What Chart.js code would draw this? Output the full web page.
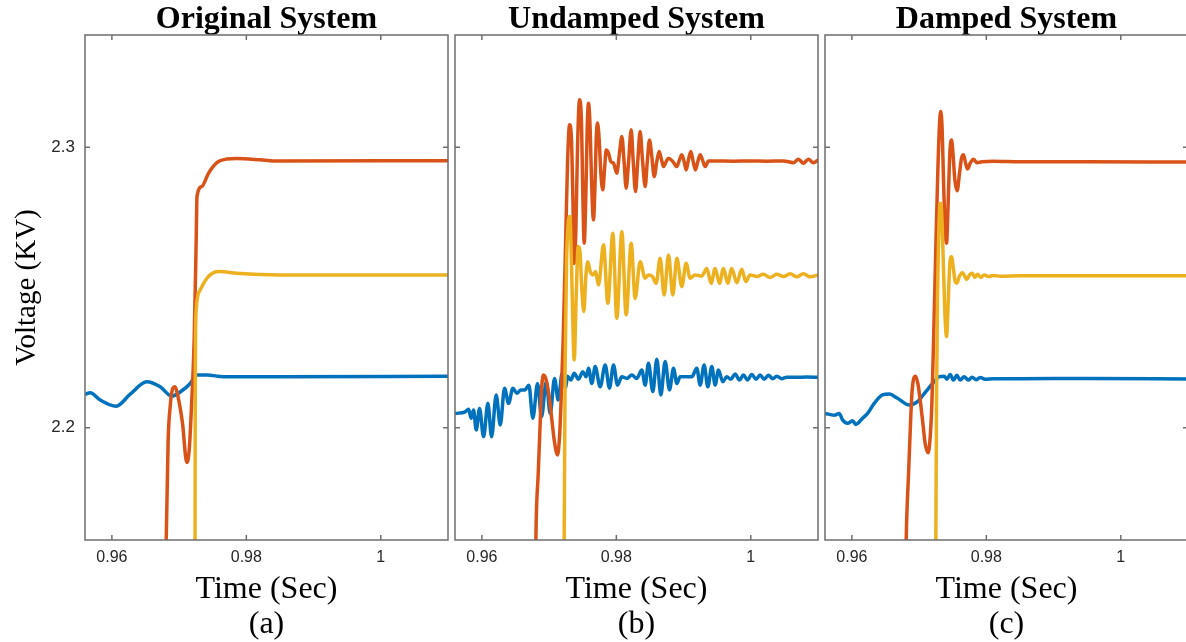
<!DOCTYPE html>
<html>
<head>
<meta charset="utf-8">
<script src="https://cdn.jsdelivr.net/npm/chart.js@4.4.1/dist/chart.umd.min.js"></script>
<style>
  body { margin: 0; background: #fff; }
  #wrap { position: relative; width: 1186px; height: 642px; overflow: hidden; background: #fff; }
  canvas { position: absolute; top: 0; }
</style>
</head>
<body>
<div id="wrap">
  <canvas id="panelA" width="452" height="642" style="left:0px"></canvas>
  <canvas id="panelB" width="370" height="642" style="left:452px"></canvas>
  <canvas id="panelC" width="370" height="642" style="left:822px"></canvas>
</div>
<script>
// axis ticks and labels
const timeTicks = [0.96, 0.98, 1];
const voltTicks = [2.2, 2.3];
const panelTitles = ['Original System', 'Undamped System', 'Damped System'];
const captions = ['(a)', '(b)', '(c)'];

// (a) original system: [time, voltage]
const origBlue = [[0.95603,2.2119],[0.95677,2.2125],[0.95827,2.2099],[0.96064,2.2077],[0.96273,2.2120],[0.96520,2.2164],[0.96719,2.2146],[0.96892,2.2113],[0.97041,2.2132],[0.97165,2.2158],[0.97264,2.2188],[0.97413,2.2188],[0.97660,2.2182],[0.98503,2.2182],[1.01006,2.2184]];
const origOrange = [[0.96793,2.1338],[0.96808,2.1600],[0.96837,2.1956],[0.96867,2.2075],[0.96897,2.2134],[0.96940,2.2146],[0.96978,2.2117],[0.97050,2.2017],[0.97115,2.1876],[0.97150,2.1920],[0.97184,2.2075],[0.97224,2.2313],[0.97254,2.2669],[0.97266,2.2824],[0.97338,2.2860],[0.97437,2.2907],[0.97561,2.2945],[0.97710,2.2958],[0.97859,2.2960],[0.98206,2.2955],[0.98404,2.2951],[1.01006,2.2952]];
const origYellow = [[0.97234,2.1338],[0.97237,2.1600],[0.97240,2.2100],[0.97245,2.2330],[0.97254,2.2420],[0.97313,2.2491],[0.97413,2.2533],[0.97512,2.2553],[0.97611,2.2557],[0.97859,2.2551],[0.98503,2.2545],[1.01006,2.2545]];

// (b) undamped system
const undBlue = [[0.95603,2.2051],[0.95752,2.2057],[0.95802,2.2066],[0.95841,2.2034],[0.95876,2.2063],[0.95916,2.1992],[0.95965,2.2069],[0.96025,2.1968],[0.96089,2.2087],[0.96144,2.1968],[0.96213,2.2117],[0.96273,2.2010],[0.96337,2.2141],[0.96397,2.2087],[0.96461,2.2141],[0.96520,2.2123],[0.96580,2.2135],[0.96639,2.2135],[0.96699,2.2152],[0.96758,2.2034],[0.96828,2.2158],[0.96887,2.2039],[0.96957,2.2164],[0.97016,2.2051],[0.97081,2.2176],[0.97135,2.2099],[0.97195,2.2194],[0.97244,2.2141],[0.97274,2.2184],[0.97323,2.2170],[0.97373,2.2194],[0.97437,2.2173],[0.97502,2.2200],[0.97551,2.2182],[0.97586,2.2212],[0.97636,2.2158],[0.97685,2.2218],[0.97760,2.2146],[0.97834,2.2224],[0.97898,2.2141],[0.97958,2.2224],[0.98017,2.2152],[0.98082,2.2182],[0.98156,2.2176],[0.98230,2.2188],[0.98305,2.2176],[0.98379,2.2206],[0.98429,2.2152],[0.98478,2.2230],[0.98543,2.2129],[0.98602,2.2244],[0.98662,2.2117],[0.98726,2.2236],[0.98791,2.2135],[0.98850,2.2212],[0.98900,2.2158],[0.98949,2.2182],[0.99024,2.2182],[0.99123,2.2182],[0.99197,2.2212],[0.99247,2.2152],[0.99306,2.2224],[0.99361,2.2146],[0.99420,2.2218],[0.99470,2.2152],[0.99519,2.2206],[0.99584,2.2164],[0.99643,2.2182],[0.99703,2.2173],[0.99767,2.2192],[0.99831,2.2170],[0.99891,2.2188],[0.99950,2.2170],[1.00015,2.2190],[1.00079,2.2173],[1.00139,2.2188],[1.00198,2.2173],[1.00263,2.2187],[1.00327,2.2175],[1.00387,2.2184],[1.00461,2.2175],[1.00535,2.2180],[1.00684,2.2180],[1.00833,2.2181],[1.01006,2.2180]];
const undOrange = [[0.96793,2.1338],[0.96803,2.1600],[0.96838,2.1837],[0.96867,2.2016],[0.96887,2.2135],[0.96917,2.2188],[0.96957,2.2170],[0.97001,2.2111],[0.97041,2.2028],[0.97076,2.1956],[0.97125,2.1903],[0.97155,2.1968],[0.97175,2.2075],[0.97209,2.2313],[0.97244,2.2646],[0.97274,2.2943],[0.97304,2.3080],[0.97333,2.3026],[0.97353,2.2824],[0.97373,2.2586],[0.97398,2.2705],[0.97423,2.3002],[0.97452,2.3169],[0.97482,2.3086],[0.97502,2.2824],[0.97522,2.2658],[0.97546,2.2824],[0.97566,2.3062],[0.97586,2.3157],[0.97611,2.3062],[0.97631,2.2883],[0.97660,2.2741],[0.97685,2.2883],[0.97700,2.3026],[0.97720,2.3086],[0.97745,2.3026],[0.97770,2.2907],[0.97799,2.2848],[0.97824,2.2919],[0.97849,2.2990],[0.97883,2.2979],[0.97918,2.2949],[0.97958,2.2943],[0.98007,2.2907],[0.98047,2.2979],[0.98082,2.3038],[0.98117,2.2943],[0.98146,2.2854],[0.98181,2.2943],[0.98221,2.3062],[0.98250,2.2955],[0.98285,2.2842],[0.98320,2.2955],[0.98354,2.3056],[0.98389,2.2955],[0.98429,2.2860],[0.98459,2.2943],[0.98493,2.3026],[0.98528,2.2967],[0.98563,2.2895],[0.98602,2.2949],[0.98637,2.2985],[0.98667,2.2961],[0.98701,2.2931],[0.98741,2.2949],[0.98776,2.2961],[0.98840,2.2949],[0.98900,2.2931],[0.98939,2.2955],[0.98974,2.2973],[0.99009,2.2949],[0.99038,2.2919],[0.99073,2.2955],[0.99108,2.2985],[0.99143,2.2949],[0.99177,2.2919],[0.99212,2.2949],[0.99247,2.2973],[0.99281,2.2955],[0.99321,2.2931],[0.99371,2.2951],[0.99445,2.2951],[0.99742,2.2950],[0.99990,2.2951],[1.00238,2.2950],[1.00486,2.2951],[1.00634,2.2945],[1.00709,2.2957],[1.00783,2.2943],[1.00857,2.2957],[1.00932,2.2945],[1.01006,2.2955]];
const undYellow = [[0.97214,2.1279],[0.97224,2.1600],[0.97239,2.2230],[0.97259,2.2586],[0.97284,2.2729],[0.97309,2.2753],[0.97333,2.2586],[0.97353,2.2372],[0.97373,2.2242],[0.97403,2.2467],[0.97432,2.2646],[0.97457,2.2634],[0.97487,2.2491],[0.97517,2.2414],[0.97546,2.2539],[0.97576,2.2592],[0.97611,2.2557],[0.97651,2.2545],[0.97690,2.2557],[0.97735,2.2509],[0.97809,2.2652],[0.97874,2.2444],[0.97948,2.2693],[0.98007,2.2390],[0.98082,2.2699],[0.98146,2.2402],[0.98221,2.2658],[0.98280,2.2461],[0.98354,2.2592],[0.98429,2.2533],[0.98478,2.2545],[0.98538,2.2539],[0.98592,2.2515],[0.98652,2.2604],[0.98711,2.2473],[0.98776,2.2616],[0.98840,2.2473],[0.98900,2.2604],[0.98974,2.2503],[0.99038,2.2586],[0.99098,2.2533],[0.99172,2.2545],[0.99271,2.2541],[0.99346,2.2568],[0.99410,2.2515],[0.99470,2.2568],[0.99534,2.2515],[0.99594,2.2568],[0.99658,2.2515],[0.99717,2.2568],[0.99792,2.2517],[0.99866,2.2565],[0.99926,2.2521],[0.99990,2.2545],[1.00089,2.2539],[1.00188,2.2547],[1.00287,2.2536],[1.00387,2.2547],[1.00486,2.2539],[1.00585,2.2549],[1.00684,2.2538],[1.00783,2.2549],[1.00882,2.2538],[1.01006,2.2545]];

// (c) damped system
const dampBlue = [[0.95603,2.2051],[0.95737,2.2045],[0.95812,2.2051],[0.95861,2.2028],[0.95936,2.2016],[0.96010,2.2025],[0.96059,2.2012],[0.96159,2.2034],[0.96233,2.2051],[0.96332,2.2087],[0.96456,2.2117],[0.96555,2.2120],[0.96679,2.2105],[0.96853,2.2081],[0.96976,2.2093],[0.97100,2.2129],[0.97224,2.2164],[0.97299,2.2182],[0.97373,2.2184],[0.97413,2.2173],[0.97462,2.2190],[0.97512,2.2170],[0.97561,2.2187],[0.97611,2.2170],[0.97670,2.2182],[0.97730,2.2170],[0.97789,2.2180],[0.97849,2.2171],[0.97908,2.2179],[0.97983,2.2173],[0.98107,2.2175],[0.98503,2.2175],[0.99494,2.2176],[1.01006,2.2174]];
const dampOrange = [[0.96793,2.1338],[0.96808,2.1600],[0.96843,2.1837],[0.96872,2.2016],[0.96897,2.2135],[0.96947,2.2184],[0.96981,2.2158],[0.97016,2.2099],[0.97056,2.2016],[0.97090,2.1944],[0.97135,2.1911],[0.97165,2.1968],[0.97190,2.2087],[0.97219,2.2349],[0.97249,2.2646],[0.97279,2.2919],[0.97304,2.3086],[0.97323,2.3127],[0.97343,2.3062],[0.97363,2.2883],[0.97388,2.2705],[0.97408,2.2658],[0.97432,2.2800],[0.97457,2.2979],[0.97482,2.3026],[0.97507,2.2967],[0.97532,2.2883],[0.97566,2.2845],[0.97601,2.2907],[0.97631,2.2961],[0.97660,2.2973],[0.97690,2.2945],[0.97720,2.2922],[0.97760,2.2943],[0.97809,2.2957],[0.97859,2.2945],[0.97933,2.2948],[0.98107,2.2950],[0.98503,2.2948],[0.99494,2.2948],[1.01006,2.2947]];
const dampYellow = [[0.97239,2.1338],[0.97249,2.1600],[0.97259,2.2111],[0.97274,2.2467],[0.97294,2.2705],[0.97314,2.2800],[0.97333,2.2777],[0.97353,2.2646],[0.97378,2.2444],[0.97408,2.2325],[0.97432,2.2444],[0.97457,2.2586],[0.97482,2.2610],[0.97512,2.2563],[0.97537,2.2521],[0.97561,2.2515],[0.97601,2.2541],[0.97646,2.2553],[0.97680,2.2539],[0.97710,2.2529],[0.97750,2.2545],[0.97789,2.2551],[0.97829,2.2536],[0.97869,2.2547],[0.97918,2.2536],[0.97968,2.2545],[0.98032,2.2539],[0.98107,2.2543],[0.98206,2.2540],[0.98503,2.2542],[0.99494,2.2542],[1.01006,2.2542]];

const SERIF = "'Liberation Serif', 'Times New Roman', serif";
const SANS = "'Liberation Sans', Arial, sans-serif";
const lineColors = ['#0072BD', '#D95319', '#EDB120']; // matlab default order
const axisGray = '#6e6e6e';

// box round the plot with inward ticks on all four sides
const frame = {
    id: 'frame',
    afterDatasetsDraw(chart) {
        const { ctx, chartArea: a, scales: { x, y } } = chart;
        ctx.save();
        ctx.strokeStyle = axisGray;
        ctx.lineWidth = 1.5;
        ctx.strokeRect(a.left, a.top, a.right - a.left, a.bottom - a.top);
        ctx.beginPath();
        x.ticks.forEach(t => {
            const px = x.getPixelForValue(t.value);
            ctx.moveTo(px, a.bottom); ctx.lineTo(px, a.bottom - 5);
            ctx.moveTo(px, a.top); ctx.lineTo(px, a.top + 5);
        });
        y.ticks.forEach(t => {
            const py = y.getPixelForValue(t.value);
            ctx.moveTo(a.left, py); ctx.lineTo(a.left + 5, py);
            ctx.moveTo(a.right, py); ctx.lineTo(a.right - 5, py);
        });
        ctx.stroke();
        ctx.restore();
    }
};

function makePanel(id, title, caption, series, first) {
    return new Chart(document.getElementById(id), {
        type: 'line',
        data: {
            datasets: series.map((s, i) => ({
                data: s.map(([x, y]) => ({ x, y })),
                borderColor: lineColors[i],
                borderWidth: 3.5,
                pointRadius: 0,
                cubicInterpolationMode: 'monotone',
                clip: 0,
                order: 3 - i
            }))
        },
        options: {
            responsive: false,
            animation: false,
            events: [],
            layout: { padding: { left: 0, right: 4, top: 0, bottom: 0 } },
            plugins: {
                legend: { display: false },
                tooltip: { enabled: false },
                title: {
                    display: true, text: title, fullSize: false, color: '#000',
                    font: { family: SERIF, size: 32, weight: 'bold', lineHeight: 1 },
                    padding: { top: 4, bottom: -1 }
                }
            },
            scales: {
                x: {
                    type: 'linear', min: 0.956, max: 1.01,
                    afterBuildTicks: s => { s.ticks = timeTicks.map(v => ({ value: v })); },
                    afterFit: s => { s.height = 102; },
                    grid: { display: false, drawTicks: false },
                    border: { display: false },
                    ticks: { color: '#262626', padding: 8, font: { family: SANS, size: 16 }, callback: v => String(v) },
                    title: {
                        display: true, text: ['Time (Sec)', caption], color: '#000', padding: 0,
                        font: { family: SERIF, size: 32, lineHeight: 35 / 32 }
                    }
                },
                y: {
                    type: 'linear', min: 2.16, max: 2.34,
                    afterBuildTicks: s => { s.ticks = voltTicks.map(v => ({ value: v })); },
                    afterFit: s => { s.width = first ? 85 : 3; },
                    grid: { display: false, drawTicks: false },
                    border: { display: false },
                    ticks: { display: first, color: '#262626', padding: 10, font: { family: SANS, size: 17 }, callback: v => String(v) },
                    title: {
                        display: first, text: 'Voltage (KV)', color: '#000', padding: { top: 10, bottom: 0 },
                        font: { family: SERIF, size: 29 }
                    }
                }
            }
        },
        plugins: [frame]
    });
}

makePanel('panelA', panelTitles[0], captions[0], [origBlue, origOrange, origYellow], true);
makePanel('panelB', panelTitles[1], captions[1], [undBlue, undOrange, undYellow], false);
makePanel('panelC', panelTitles[2], captions[2], [dampBlue, dampOrange, dampYellow], false);
</script>
</body>
</html>
